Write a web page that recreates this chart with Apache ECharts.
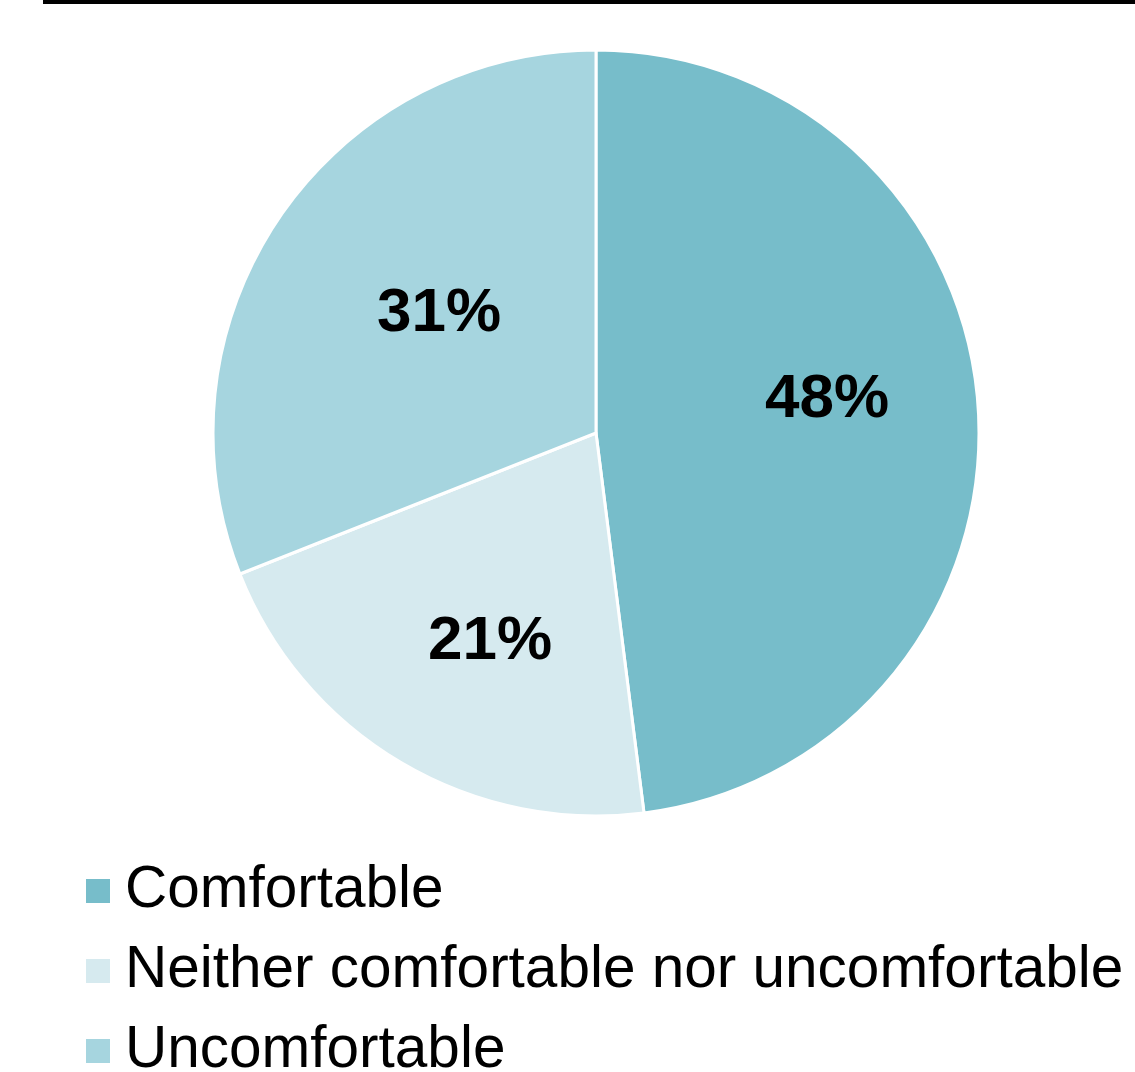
<!DOCTYPE html>
<html>
<head>
<meta charset="utf-8">
<title>Comfort level</title>
<script src="https://cdn.jsdelivr.net/npm/echarts@6/dist/echarts.min.js"></script>
<style>
  html, body { margin: 0; padding: 0; background: #ffffff; }
  #chart { width: 1135px; height: 1072px; }
</style>
</head>
<body>
<div id="chart"></div>
<script>
// Survey answers, in drawing order (clockwise from 12 o'clock)
const categories = ['Comfortable', 'Neither comfortable nor uncomfortable', 'Uncomfortable'];
const shares = [48, 21, 31];
const sliceColors = ['#77bdca', '#d6eaef', '#a6d5df'];

// Nudges for the in-slice percentage labels (pixels from the default inside spot)
const labelNudge = [[37, -21], [-7, 41], [4, -10]];

const FONT = '"Liberation Sans", Arial, Helvetica, sans-serif';

const chart = echarts.init(document.getElementById('chart'), null, { renderer: 'canvas' });

chart.setOption({
  animation: false,
  color: sliceColors,
  graphic: [{
    type: 'rect',
    shape: { x: 43, y: 0, width: 1092, height: 4 },
    style: { fill: '#000000' }
  }],
  legend: {
    orient: 'vertical',
    left: 84,
    top: 861,
    height: 220,
    padding: 0,
    icon: 'rect',
    itemWidth: 26,
    itemHeight: 26,
    itemGap: 20,
    selectedMode: false,
    data: categories,
    textStyle: {
      fontFamily: FONT,
      fontSize: 58.5,
      color: '#000000',
      lineHeight: 60,
      padding: [0, 0, 0, 9]
    }
  },
  series: [{
    type: 'pie',
    center: [596, 433],
    radius: [0, 383],
    startAngle: 90,
    clockwise: true,
    avoidLabelOverlap: false,
    itemStyle: { borderColor: '#ffffff', borderWidth: 3 },
    label: {
      show: true,
      position: 'inside',
      formatter: '{c}%',
      fontFamily: FONT,
      fontWeight: 'bold',
      fontSize: 62,
      color: '#000000'
    },
    labelLine: { show: false },
    emphasis: { disabled: true },
    labelLayout: function (p) {
      const n = labelNudge[p.dataIndex];
      return { dx: n[0], dy: n[1] };
    },
    data: categories.map((name, i) => ({ name: name, value: shares[i] }))
  }]
});
</script>
</body>
</html>
